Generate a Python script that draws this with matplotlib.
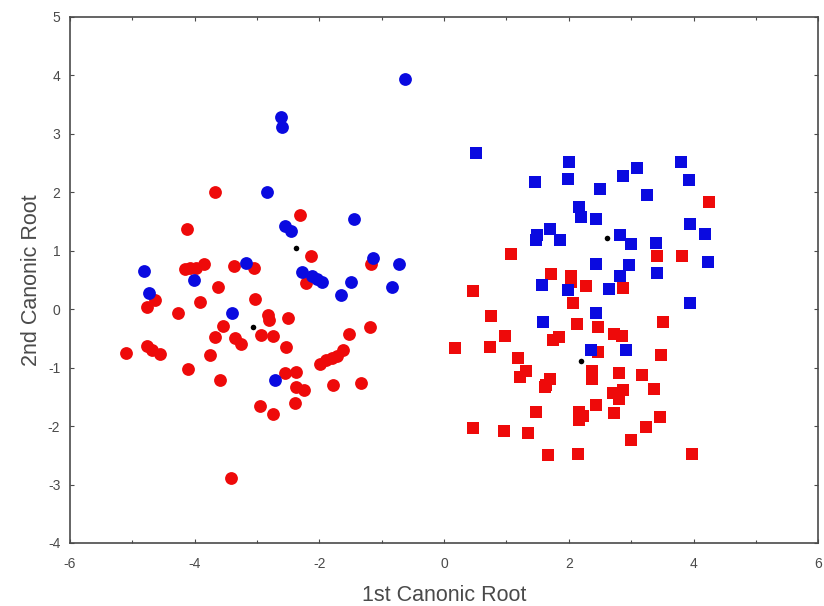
import numpy as np
import matplotlib
matplotlib.use('Agg')
import matplotlib.pyplot as plt

plt.rcParams['font.family'] = ['Liberation Sans', 'DejaVu Sans']
plt.rcParams['axes.unicode_minus'] = False

# group A (circles), red
red_circ_x = [-3.68, -2.31, -4.13, -2.13, -1.18, -4.16, -4.08, -3.98, -3.85,
              -3.37, -3.05, -3.63, -2.22, -4.63, -4.77, -3.91, -3.03, -4.27,
              -2.82, -2.81, -2.51, -3.54, -3.68, -3.35, -3.26, -2.94, -2.75,
              -1.19, -1.52, -2.53, -5.11, -4.76, -4.69, -4.56, -3.75, -4.11,
              -3.60, -1.99, -1.90, -1.80, -1.72, -1.62, -2.55, -2.37, -2.38,
              -2.25, -1.79, -1.33, -2.39, -2.96, -2.74, -3.42]
red_circ_y = [2.00, 1.62, 1.38, 0.91, 0.77, 0.68, 0.71, 0.71, 0.78,
              0.74, 0.71, 0.38, 0.45, 0.15, 0.03, 0.13, 0.17, -0.06,
              -0.10, -0.19, -0.15, -0.29, -0.47, -0.50, -0.60, -0.45, -0.46,
              -0.30, -0.42, -0.65, -0.75, -0.63, -0.70, -0.77, -0.78, -1.02,
              -1.22, -0.93, -0.87, -0.84, -0.80, -0.70, -1.10, -1.08, -1.33,
              -1.39, -1.30, -1.27, -1.60, -1.66, -1.79, -2.89]

# group A (circles), blue
blue_circ_x = [-0.62, -2.62, -2.60, -2.84, -1.45, -2.55, -2.45, -1.14, -0.73,
               -4.81, -3.17, -4.01, -2.28, -2.12, -2.04, -1.96, -1.50, -0.84,
               -1.65, -4.73, -3.40, -2.71]
blue_circ_y = [3.94, 3.28, 3.11, 2.00, 1.55, 1.43, 1.34, 0.88, 0.77,
               0.65, 0.79, 0.50, 0.64, 0.57, 0.51, 0.47, 0.47, 0.38,
               0.24, 0.27, -0.06, -1.22]

# group B (squares), blue
blue_sq_x = [0.51, 2.00, 3.80, 3.09, 2.87, 1.98, 3.93, 1.45, 2.50, 3.25,
             2.16, 2.19, 2.43, 3.94, 4.19, 1.69, 1.49, 1.47, 1.86, 2.82,
             3.00, 3.40, 4.23, 2.43, 2.96, 3.41, 2.82, 1.57, 1.98, 2.64,
             3.94, 2.44, 1.59, 2.36, 2.92]
blue_sq_y = [2.67, 2.52, 2.52, 2.42, 2.28, 2.22, 2.21, 2.18, 2.05, 1.95,
             1.75, 1.58, 1.55, 1.45, 1.28, 1.38, 1.27, 1.18, 1.19, 1.27,
             1.11, 1.14, 0.81, 0.78, 0.75, 0.62, 0.57, 0.41, 0.33, 0.35,
             0.10, -0.07, -0.22, -0.69, -0.69]

# group B (squares), red
red_sq_x = [4.25, 1.07, 3.42, 3.82, 1.72, 2.03, 2.27, 2.87, 0.46, 2.06,
            0.75, 2.13, 2.46, 3.51, 0.98, 2.73, 2.85, 1.75, 1.85, 0.17,
            0.74, 2.46, 3.48, 1.18, 1.31, 1.21, 2.37, 2.37, 2.81, 3.18,
            1.69, 1.63, 1.62, 3.36, 2.71, 2.87, 2.80, 1.48, 2.16, 2.22,
            2.16, 2.43, 2.73, 3.47, 3.24, 0.46, 0.96, 1.34, 2.99, 1.67,
            2.15, 3.98, 2.03]
red_sq_y = [1.84, 0.94, 0.91, 0.91, 0.61, 0.57, 0.39, 0.37, 0.31, 0.10,
            -0.12, -0.26, -0.31, -0.22, -0.46, -0.43, -0.46, -0.53, -0.48, -0.66,
            -0.65, -0.73, -0.78, -0.84, -1.06, -1.16, -1.06, -1.19, -1.10, -1.12,
            -1.20, -1.30, -1.33, -1.36, -1.43, -1.39, -1.53, -1.76, -1.76, -1.82,
            -1.90, -1.64, -1.78, -1.85, -2.01, -2.03, -2.09, -2.12, -2.23, -2.50,
            -2.48, -2.48, 0.47]

# group centroids
cent_x = [-2.38, -3.07, 2.62, 2.20]
cent_y = [1.04, -0.30, 1.21, -0.89]

RED = '#ee0a0a'
BLUE = '#0a0ae0'
GREY = '#4a4a4a'

fig = plt.figure(figsize=(8.24, 6.06), dpi=100)
ax = fig.add_axes([0.085, 0.104, 0.908, 0.868])

ax.scatter(red_circ_x, red_circ_y, s=85, marker='o', color=RED, linewidths=0)
ax.scatter(blue_circ_x, blue_circ_y, s=85, marker='o', color=BLUE, linewidths=0)
ax.scatter(red_sq_x, red_sq_y, s=75, marker='s', color=RED, linewidths=0)
ax.scatter(blue_sq_x, blue_sq_y, s=75, marker='s', color=BLUE, linewidths=0)
ax.scatter(cent_x, cent_y, s=16, marker='o', color='black', linewidths=0,
           zorder=3)

ax.set_xlim(-6, 6)
ax.set_ylim(-4, 5)
ax.set_xticks(np.arange(-6, 7, 2))
ax.set_yticks(np.arange(-4, 6, 1))
ax.set_xticks(np.arange(-5, 6, 2), minor=True)
ax.tick_params(which='both', direction='in', top=True, right=True,
               colors=GREY, labelsize=10, length=3, width=0.8)
ax.tick_params(axis='x', pad=10)
ax.tick_params(axis='y', pad=7)
ax.tick_params(which='minor', length=2)
for sp in ax.spines.values():
    sp.set_color(GREY)
    sp.set_linewidth(1.2)

ax.set_xlabel('1st Canonic Root', fontsize=15.5, color=GREY, labelpad=10)
ax.set_ylabel('2nd Canonic Root', fontsize=15.5, color=GREY, labelpad=4)

fig.savefig('out.png', dpi=100)
